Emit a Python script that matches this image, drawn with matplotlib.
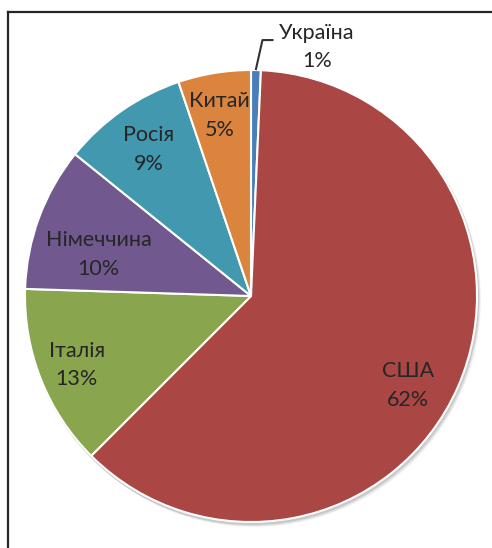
import numpy as np
import matplotlib
matplotlib.use('Agg')
import matplotlib.pyplot as plt
from matplotlib.lines import Line2D

# data (clockwise from 12 o'clock)
countries = ['Україна', 'США', 'Італія', 'Німеччина', 'Росія', 'Китай']
shares = [0.7, 61.8, 13.0, 10.3, 9.0, 5.2]
colors = ['#4A7EBB', '#AA4643', '#89A54E', '#71588F', '#4198AF', '#DB843D']

# label placement: fraction of radius and angle shift (deg) from slice middle
label_r = [None, 0.80, 0.83, 0.70, 0.79, 0.81]
label_shift = [0, -6, 0, 5, 0, 0.5]

plt.rcParams['font.family'] = ['Lato', 'DejaVu Sans']

W, H = 492, 548
fig = plt.figure(figsize=(W / 100, H / 100), dpi=100)
ax = fig.add_axes([0, 0, 1, 1])

cx, cy, R = 251, H - 296, 226

# soft shadow under the pie
for k, a in enumerate([0.10, 0.08, 0.05]):
    ax.add_patch(plt.Circle((cx + 1 + k, cy - 2 - k), R + 1, color='black',
                            alpha=a, lw=0, zorder=0))

wedges, _ = ax.pie(shares, colors=colors, startangle=90, counterclock=False,
                   center=(cx, cy), radius=R, frame=True,
                   wedgeprops=dict(edgecolor='white', linewidth=1.5))
ax.set_xlim(0, W)
ax.set_ylim(0, H)
ax.set_aspect('equal')
ax.axis('off')

txt_color = '#262626'
fs = 15.5
total = sum(shares)
for i, w in enumerate(wedges):
    pct = f'{round(shares[i] / total * 100)}%'
    lab = f'{countries[i]}\n{pct}'
    mid = np.deg2rad((w.theta1 + w.theta2) / 2 + label_shift[i])
    if label_r[i] is None:
        # small slice: label outside with leader line
        x0 = cx + R * np.cos(mid)
        y0 = cy + R * np.sin(mid)
        ax.add_line(Line2D([x0, x0 + 6.5, x0 + 16.5],
                           [y0 + 1, y0 + 30, y0 + 30],
                           color='#333333', lw=1.5))
        ax.text(x0 + 61, y0 + 23, lab, ha='center', va='center',
                fontsize=fs, color=txt_color, linespacing=1.55)
    else:
        x = cx + label_r[i] * R * np.cos(mid)
        y = cy + label_r[i] * R * np.sin(mid)
        ax.text(x, y, lab, ha='center', va='center', fontsize=fs,
                color=txt_color, linespacing=1.55)

# chart area border (runs off the right and bottom of the picture)
fig.add_artist(Line2D([8 / W, 8 / W], [0, 1 - 12 / H], color='#262626',
                      lw=1.6, transform=fig.transFigure))
fig.add_artist(Line2D([8 / W, 1], [1 - 12 / H, 1 - 12 / H], color='#262626',
                      lw=1.6, transform=fig.transFigure))

fig.savefig('out.png', dpi=100)
